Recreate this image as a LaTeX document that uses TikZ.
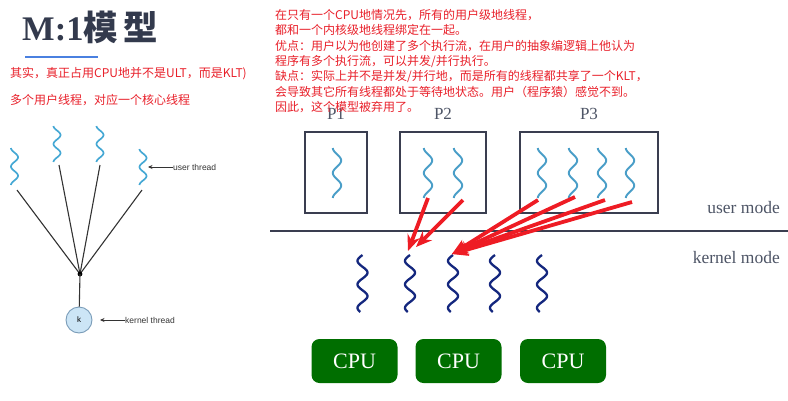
\documentclass[tikz,border=0pt]{standalone}
\usepackage{fontspec}
\setmainfont{Liberation Serif}
\setsansfont{Liberation Sans}
\newfontfamily\cjk{Noto Sans CJK SC}
\usetikzlibrary{arrows.meta}
\definecolor{redtxt}{HTML}{E8202A}
\definecolor{titlec}{HTML}{333A4D}
\definecolor{ublue}{HTML}{4A80E0}
\definecolor{cyanth}{HTML}{45A8D4}
\definecolor{boxth}{HTML}{4A9EC8}
\definecolor{navyth}{HTML}{14277E}
\definecolor{boxc}{HTML}{3A3E50}
\definecolor{cpug}{HTML}{006E00}
\definecolor{modec}{HTML}{4E5566}
\definecolor{arrred}{HTML}{EE1C24}
\definecolor{kfill}{HTML}{CCE5F6}
\definecolor{kdraw}{HTML}{7A9CB8}
\definecolor{lblc}{HTML}{333333}
\newcommand\wthr[7]{%
  \draw[#7] plot[domain=0:#3, samples=70, smooth, variable=\t]
    ({#1 - #5*cos(360/#4*\t + #6)}, {#2 + \t});}
\tikzset{
  redline/.style={anchor=west, text=redtxt, inner sep=0pt, font=\cjk\fontsize{12}{12}\selectfont},
  lthread/.style={cyanth, line width=1.7pt},
  bthread/.style={boxth, line width=1.9pt},
  kthread/.style={navyth, line width=2.3pt},
  fan/.style={lblc, line width=1.1pt},
  pbox/.style={draw=boxc, line width=1.8pt, inner sep=0pt, minimum height=81pt},
  plabel/.style={anchor=base, text=modec, inner sep=0pt, font=\fontsize{17}{17}\selectfont},
  modelabel/.style={anchor=base east, text=modec, inner sep=0pt, font=\fontsize{17.5}{17.5}\selectfont},
  cpu/.style={fill=cpug, rounded corners=8pt, minimum width=86pt, minimum height=44pt, inner sep=0pt, text=white, font=\fontsize{22}{22}\selectfont},
  redarr/.style={arrred, line width=3.8pt, -{Stealth[length=16pt,width=13pt]}},
  smalllbl/.style={anchor=west, inner sep=0pt, text=lblc, font=\sffamily\fontsize{8.5}{8.5}\selectfont},
  smallarr/.style={lblc, line width=0.9pt, -{Stealth[length=4.5pt,width=4pt,fill=red!50!black]}}
}
\begin{document}
\begin{tikzpicture}[x=1pt,y=-1pt]
\useasboundingbox (0,0) rectangle (788,400);

% ---- title
\node[anchor=base west, text=titlec, inner sep=0pt, font=\fontsize{34.5}{34.5}\selectfont\bfseries] (title) at (22,40) {M:1{\cjk\bfseries 模\,型}};
\draw[ublue, line width=2pt] (25,57) -- (98,57);
\node[redline] (l1) at (10,74) {其实，真正占用CPU地并不是ULT，而是KLT)};
\node[redline] (l2) at (10,100) {多个用户线程，对应一个核心线程};

% ---- left M:1 figure
\wthr{14.5}{148}{37}{18.5}{3.5}{0}{lthread}
\wthr{57}{126}{36}{18}{3.5}{0}{lthread}
\wthr{100}{126}{36}{18}{3.5}{0}{lthread}
\wthr{143}{149}{36}{18}{3.5}{0}{lthread}
\coordinate (u1) at (17,190);
\coordinate (u2) at (59,165);
\coordinate (u3) at (100,165);
\coordinate (u4) at (142,190);
\coordinate (hub) at (80,274);
\foreach \u in {u1,u2,u3,u4} \draw[fan] (\u) -- (hub);
\fill[black] (hub) circle (2.4pt);
\node[circle, draw=kdraw, fill=kfill, line width=0.9pt, minimum size=26pt, inner sep=0pt, font=\sffamily\fontsize{8}{8}\selectfont] (k) at (79,320) {k};
\draw[fan] (hub) -- (k);
\node[smalllbl] (ulab) at (173,167) {user thread};
\coordinate (utip) at (148,167);
\draw[smallarr] (ulab.west) -- (utip);
\node[smalllbl] (klab) at (125,320) {kernel thread};
\coordinate (ktip) at (100,320);
\draw[smallarr] (klab.west) -- (ktip);

% ---- process boxes
\node[pbox, minimum width=62pt] (p1) at (336,172.5) {};
\node[pbox, minimum width=86pt] (p2) at (443,172.5) {};
\node[pbox, minimum width=138pt] (p3) at (589,172.5) {};
\node[plabel] (p1l) at (336,119) {P1};
\node[plabel] (p2l) at (443,119) {P2};
\node[plabel] (p3l) at (589,119) {P3};
\foreach \xx in {337,428,458,542,573,602,630} {\wthr{\xx}{148}{50}{25}{4.2}{0}{bthread}}

% ---- separator and modes
\coordinate (sepL) at (270,231);
\coordinate (sepR) at (788,231);
\draw[boxc, line width=2.8pt] (sepL) -- (sepR);
\node[modelabel] (um) at (780,213) {user mode};
\node[modelabel] (km) at (780,263) {kernel mode};

% ---- kernel threads
\foreach \xx in {362.5,410,453,495,542} {\wthr{\xx}{255}{57}{23.5}{5}{-90}{kthread}}

% ---- CPUs
\node[cpu] (c1) at (354.5,361) {CPU};
\node[cpu] (c2) at (458.5,361) {CPU};
\node[cpu] (c3) at (563,361) {CPU};

% ---- red arrows
\coordinate (s1) at (428,198);
\coordinate (s2) at (463,200);
\coordinate (s3) at (538,200);
\coordinate (s4) at (575,197);
\coordinate (s5) at (605,200);
\coordinate (s6) at (632,202);
\coordinate (t1) at (408,251);
\coordinate (t2) at (416,247);
\coordinate (t3) at (452,254);
\draw[redarr] (s1) -- (t1);
\draw[redarr] (s2) -- (t2);
\foreach \s in {s3,s4,s5,s6} \draw[redarr] (\s) -- (t3);

% ---- right text block
\node[redline] (r1) at (275,15) {在只有一个CPU地情况先，所有的用户级地线程，};
\node[redline] (r2) at (275,30.3) {都和一个内核级地线程绑定在一起。};
\node[redline] (r3) at (275,45.6) {优点：用户以为他创建了多个执行流，在用户的抽象编逻辑上他认为};
\node[redline] (r4) at (275,61) {程序有多个执行流，可以并发/并行执行。};
\node[redline] (r5) at (275,76.3) {缺点：实际上并不是并发/并行地，而是所有的线程都共享了一个KLT，};
\node[redline] (r6) at (275,91.6) {会导致其它所有线程都处于等待地状态。用户（程序猿）感觉不到。};
\node[redline] (r7) at (275,107) {因此，这个模型被弃用了。};
\end{tikzpicture}
\end{document}
